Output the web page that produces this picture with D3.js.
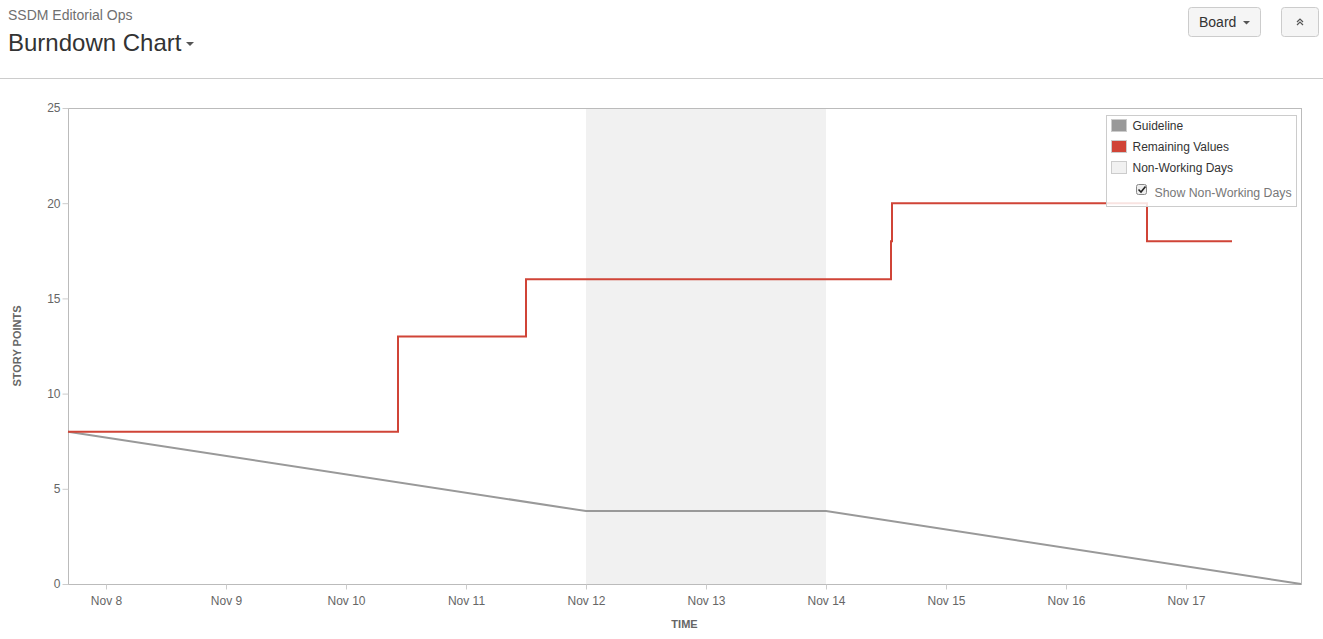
<!DOCTYPE html>
<html>
<head>
<meta charset="utf-8">
<script src="https://cdn.jsdelivr.net/npm/d3@7"></script>
<style>
  body { margin: 0; background: #fff; font-family: "Liberation Sans", Arial, sans-serif; }
  .graph { position: relative; width: 1323px; height: 639px; overflow: hidden; }
</style>
</head>
<body>
<div class="graph"><svg></svg></div>
<script>
// chart data
const startTime = new Date(2015, 10, 7, 16, 24)
const endTime = new Date(2015, 10, 17, 23, 0)
const nonWorkingDays = [[new Date(2015, 10, 12), new Date(2015, 10, 14)]]
const guideTimes = [startTime, new Date(2015, 10, 12), new Date(2015, 10, 14), endTime]
const guideValues = [8, 3.83, 3.83, 0]
const remainingTimes = [startTime, new Date(2015, 10, 10, 10, 24), new Date(2015, 10, 11, 12, 0),
  new Date(2015, 10, 14, 13, 0), new Date(2015, 10, 14, 13, 12), new Date(2015, 10, 16, 16, 12),
  new Date(2015, 10, 17, 9, 12)]
const remainingValues = [8, 13, 16, 18, 20, 18, 18]
const yTicks = [0, 5, 10, 15, 20, 25]
const legendItems = ['Guideline', 'Remaining Values', 'Non-Working Days']
const legendColors = ['#999999', '#d04437', '#f1f1f1']

const width = 1323
const height = 639
const margin = { left: 68, right: 22, top: 108, bottom: 55 }

const svg = d3.select('.graph').select('svg')
  .attr('width', width)
  .attr('height', height)

// header
svg.append('text').text('SSDM Editorial Ops')
  .attr('x', 8).attr('y', 20)
  .attr('fill', '#707070').attr('font-size', 14)
svg.append('text').text('Burndown Chart')
  .attr('x', 8).attr('y', 51)
  .attr('fill', '#333').attr('font-size', 24)
svg.append('path').attr('d', 'M186,42 l8,0 l-4,4 z').attr('fill', '#555')
svg.append('line')
  .attr('x1', 0).attr('x2', width).attr('y1', 78.5).attr('y2', 78.5)
  .attr('stroke', '#ccc')

// header buttons
svg.append('rect').attr('x', 1188.5).attr('y', 7.5).attr('width', 72).attr('height', 29).attr('rx', 3)
  .attr('fill', '#f5f5f5').attr('stroke', '#ccc')
svg.append('text').text('Board').attr('x', 1199).attr('y', 27)
  .attr('fill', '#333').attr('font-size', 14)
svg.append('path').attr('d', 'M1243,21 l7,0 l-3.5,3.5 z').attr('fill', '#555')
svg.append('rect').attr('x', 1281.5).attr('y', 7.5).attr('width', 37).attr('height', 29).attr('rx', 3)
  .attr('fill', '#f5f5f5').attr('stroke', '#ccc')
svg.append('path').attr('d', 'M1297,22 l3,-3 l3,3 M1297,25 l3,-3 l3,3')
  .attr('fill', 'none').attr('stroke', '#555').attr('stroke-width', 1.2)

const x = d3.scaleTime()
  .domain([startTime, endTime])
  .range([margin.left, width - margin.right])
const y = d3.scaleLinear()
  .domain([0, 25])
  .range([height - margin.bottom, margin.top])

const g = svg.append('g')

// non-working days
g.selectAll('.nwd').data(nonWorkingDays).enter().append('rect')
  .attr('x', d => x(d[0]))
  .attr('width', d => x(d[1]) - x(d[0]))
  .attr('y', y(25))
  .attr('height', y(0) - y(25))
  .attr('fill', '#f1f1f1')

// plot frame
g.append('rect')
  .attr('x', x.range()[0] + 0.5).attr('y', y(25) + 0.5)
  .attr('width', x.range()[1] - x.range()[0]).attr('height', y(0) - y(25))
  .attr('fill', 'none').attr('stroke', '#bbb')

// axes
const xAxis = g.append('g')
  .attr('transform', `translate(0,${y(0) + 0.5})`)
  .call(d3.axisBottom(x).ticks(d3.timeDay.every(1)).tickFormat(d3.timeFormat('Nov %-d')).tickSize(6).tickSizeOuter(0).tickPadding(6))
const yAxis = g.append('g')
  .attr('transform', `translate(${x.range()[0] + 0.5},0)`)
  .call(d3.axisLeft(y).tickValues(yTicks).tickSize(6).tickSizeOuter(0).tickPadding(2))
;[xAxis, yAxis].forEach(a => {
  a.select('.domain').remove()
  a.selectAll('.tick line').attr('stroke', '#ccc')
  a.selectAll('.tick text').attr('fill', '#666').attr('font-size', 12)
    .attr('font-family', '"Liberation Sans", Arial, sans-serif')
})
xAxis.selectAll('.tick line').attr('y1', 0).attr('y2', 5)

// axis titles
svg.append('text').text('TIME')
  .attr('x', (x.range()[0] + x.range()[1]) / 2).attr('y', 628)
  .attr('text-anchor', 'middle').attr('font-weight', 'bold')
  .attr('font-size', 11).attr('fill', '#666')
svg.append('text').text('STORY POINTS')
  .attr('transform', `translate(21,${(y(0) + y(25)) / 2}) rotate(-90)`)
  .attr('text-anchor', 'middle').attr('font-weight', 'bold')
  .attr('font-size', 11).attr('fill', '#666')

// guideline
const guideData = guideTimes.map((t, i) => ({ t, v: guideValues[i] }))
g.append('path').datum(guideData)
  .attr('d', d3.line().x(d => x(d.t)).y(d => y(d.v)))
  .attr('fill', 'none').attr('stroke', '#999').attr('stroke-width', 2)

// remaining values
const remainData = remainingTimes.map((t, i) => ({ t, v: remainingValues[i] }))
g.append('path').datum(remainData)
  .attr('d', d3.line().curve(d3.curveStepAfter).x(d => x(d.t)).y(d => y(d.v)))
  .attr('fill', 'none').attr('stroke', '#d04437').attr('stroke-width', 2)

// legend
const legend = svg.append('g').attr('transform', 'translate(1106.5,115.5)')
legend.append('rect').attr('width', 190).attr('height', 91)
  .attr('fill', 'rgba(255,255,255,0.85)').attr('stroke', '#ccc')
const items = legend.selectAll('.item').data(legendItems).enter().append('g')
  .attr('transform', (d, i) => `translate(5,${4 + i * 21})`)
items.append('rect').attr('width', 15).attr('height', 12)
  .attr('fill', (d, i) => legendColors[i]).attr('stroke', '#ccc')
items.append('text').text(d => d).attr('x', 21).attr('y', 10.5)
  .attr('font-size', 12).attr('fill', '#333')
legend.append('rect').attr('x', 30).attr('y', 69).attr('width', 10).attr('height', 10).attr('rx', 2)
  .attr('fill', '#eee').attr('stroke', '#888')
legend.append('path').attr('d', 'M32,74 l2.5,2.5 l4.5,-5.5').attr('fill', 'none')
  .attr('stroke', '#222').attr('stroke-width', 1.6)
legend.append('text').text('Show Non-Working Days').attr('x', 48).attr('y', 81)
  .attr('font-size', 12.3).attr('fill', '#777')
</script>
</body>
</html>
